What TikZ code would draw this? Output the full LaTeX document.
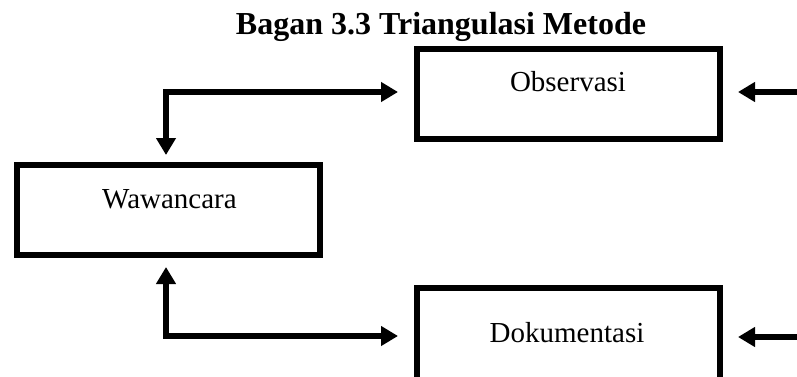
\documentclass[tikz,border=0pt]{standalone}
\usepackage{fontspec}
\setmainfont{Liberation Serif}
\usetikzlibrary{arrows.meta,calc}
\begin{document}
\begin{tikzpicture}[x=1pt,y=-1pt,
  box/.style={draw,line width=6pt,minimum width=303pt,inner sep=0pt},
  lbl/.style={font=\fontsize{29}{34}\selectfont,anchor=base,inner sep=0pt},
  link/.style={line width=6pt,-{Triangle[length=17pt,width=19pt]}},
  twoway/.style={line width=6pt,{Triangle[length=17pt,width=19pt]}-{Triangle[length=17pt,width=19pt]}}
]
\useasboundingbox (0,0) rectangle (797,377);
\clip (0,0) rectangle (797,377);

% title
\node[font=\bfseries\fontsize{32}{38}\selectfont,anchor=base,inner sep=0pt] (title) at (441,35) {Bagan 3.3 Triangulasi Metode};

% boxes
\node[box,minimum height=90pt] (obs) at (568.5,94) {};
\node[box,minimum height=90.5pt] (waw) at (168.5,209.75) {};
\node[box,minimum height=110pt] (dok) at (568.5,343) {};

% labels
\node[lbl] (obsT) at (568,92) {Observasi};
\node[lbl] (wawT) at (169.5,208) {Wawancara};
\node[lbl] (dokT) at (567,342) {Dokumentasi};

% connector end points
\coordinate (wawUp) at (166,155);
\coordinate (obsIn) at (398,92);
\coordinate (wawDown) at (166,267);
\coordinate (dokIn) at (398,336);
\coordinate (obsSrc) at (805,92);
\coordinate (obsOut) at (738,92);
\coordinate (dokSrc) at (805,337);
\coordinate (dokOut) at (738,337);

% connectors
\draw[twoway] (wawUp) |- (obsIn);
\draw[twoway] (wawDown) |- (dokIn);
\draw[link] (obsSrc) -- (obsOut);
\draw[link] (dokSrc) -- (dokOut);
\end{tikzpicture}
\end{document}
